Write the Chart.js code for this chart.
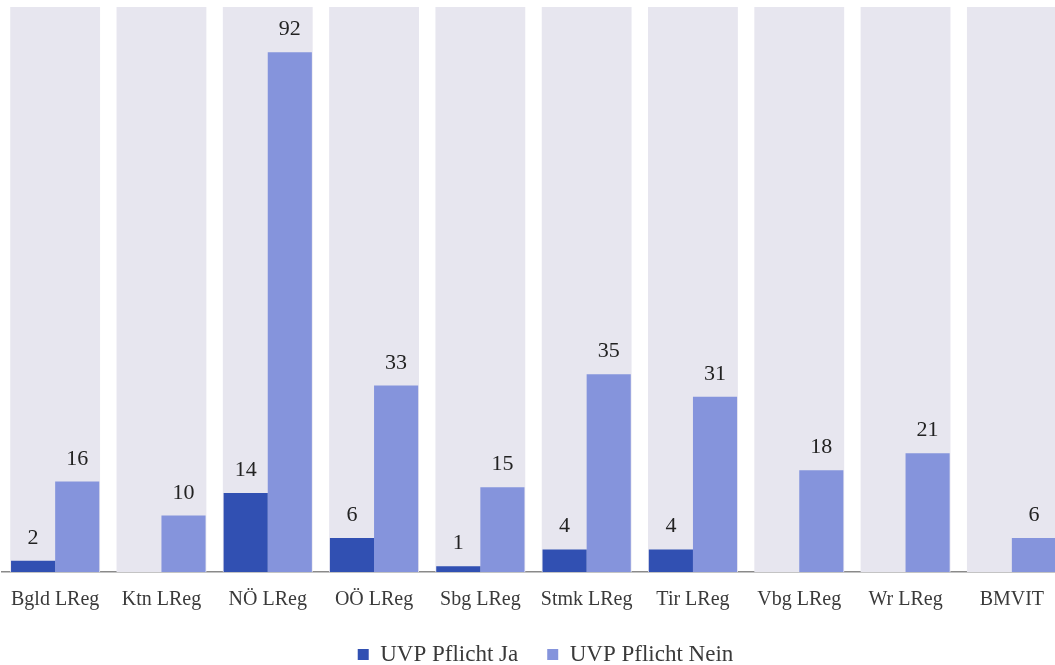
<!DOCTYPE html>
<html>
<head>
<meta charset="utf-8">
<title>UVP Pflicht nach Behörde</title>
<script src="https://cdn.jsdelivr.net/npm/chart.js@4.4.1/dist/chart.umd.min.js"></script>
<style>
  html, body { margin: 0; padding: 0; background: #ffffff; overflow: hidden; }
  #wrap { width: 1055px; height: 665px; overflow: hidden; position: relative; }
  #chart { position: absolute; left: 0; top: 0; }
</style>
</head>
<body>
<div id="wrap"><canvas id="chart" width="1067" height="665"></canvas></div>
<script>
// Behörden (x-axis categories)
const categories = ['Bgld LReg', 'Ktn LReg', 'NÖ LReg', 'OÖ LReg', 'Sbg LReg',
                    'Stmk LReg', 'Tir LReg', 'Vbg LReg', 'Wr LReg', 'BMVIT'];

// Anzahl der Verfahren mit UVP-Pflicht (null = kein Fall)
const pflichtJa = [2, null, 14, 6, 1, 4, 4, null, null, null];

// Anzahl der Verfahren ohne UVP-Pflicht
const pflichtNein = [16, 10, 92, 33, 15, 35, 31, 18, 21, 6];

// Value axis range
const axisMax = 100;

const SERIF = '"Liberation Serif", "Times New Roman", serif';
const COLOR_JA = '#3150b2';
const COLOR_NEIN = '#8594dc';
const PANEL = '#e7e6ef';
const PANEL_SHARE = 0.845;
const LEGEND_SHIFT = 12;

// Light column behind every category, spanning the whole value range
const panelPlugin = {
  id: 'categoryPanels',
  beforeDatasetsDraw(chart) {
    const { ctx, scales: { x, y } } = chart;
    const step = x.width / categories.length;
    const w = step * PANEL_SHARE;
    const top = y.getPixelForValue(axisMax);
    const bottom = y.getPixelForValue(0);
    ctx.save();
    ctx.fillStyle = PANEL;
    categories.forEach((_, i) => {
      const cx = x.getPixelForValue(i);
      ctx.fillRect(cx - w / 2, top, w, bottom - top);
    });
    ctx.restore();
  }
};

// Numbers written above each bar
const valueLabelPlugin = {
  id: 'valueLabels',
  afterDatasetsDraw(chart) {
    const { ctx } = chart;
    ctx.save();
    ctx.font = '22px ' + SERIF;
    ctx.fillStyle = '#222222';
    ctx.textAlign = 'center';
    ctx.textBaseline = 'alphabetic';
    chart.data.datasets.forEach((ds, di) => {
      const meta = chart.getDatasetMeta(di);
      meta.data.forEach((bar, i) => {
        const v = ds.data[i];
        if (v === null || v === undefined) return;
        ctx.fillText(String(v), bar.x, bar.y - 17);
      });
    });
    ctx.restore();
  }
};

// Nudge the legend row slightly to the right of centre
const legendShiftPlugin = {
  id: 'legendShift',
  afterLayout(chart) {
    if (chart.legend) {
      chart.legend.left += LEGEND_SHIFT;
      chart.legend.right += LEGEND_SHIFT;
    }
  }
};

new Chart(document.getElementById('chart'), {
  type: 'bar',
  data: {
    labels: categories,
    datasets: [
      {
        label: 'UVP Pflicht Ja',
        data: pflichtJa,
        backgroundColor: COLOR_JA,
        borderWidth: 0,
        categoryPercentage: 0.83,
        barPercentage: 1.0
      },
      {
        label: 'UVP Pflicht Nein',
        data: pflichtNein,
        backgroundColor: COLOR_NEIN,
        borderWidth: 0,
        categoryPercentage: 0.83,
        barPercentage: 1.0
      }
    ]
  },
  options: {
    responsive: false,
    animation: false,
    devicePixelRatio: 1,
    layout: { padding: { left: 2, right: 2, top: 7, bottom: -11 } },
    scales: {
      x: {
        grid: { display: false, drawTicks: false },
        border: { display: true, color: '#8a8a8a', width: 1.5 },
        ticks: {
          autoSkip: false,
          maxRotation: 0,
          padding: 16,
          color: '#3a3a3a',
          font: { family: SERIF, size: 20 }
        },
        afterFit(scale) {
          scale.height -= 14;
          scale.paddingLeft = 0;
          scale.paddingRight = 0;
        }
      },
      y: {
        display: false,
        min: 0,
        max: axisMax
      }
    },
    plugins: {
      legend: {
        position: 'bottom',
        labels: {
          boxWidth: 11,
          boxHeight: 11,
          padding: 29,
          color: '#3a3a3a',
          font: { family: SERIF, size: 23 }
        }
      },
      tooltip: { enabled: false }
    }
  },
  plugins: [panelPlugin, valueLabelPlugin, legendShiftPlugin]
});
</script>
</body>
</html>
